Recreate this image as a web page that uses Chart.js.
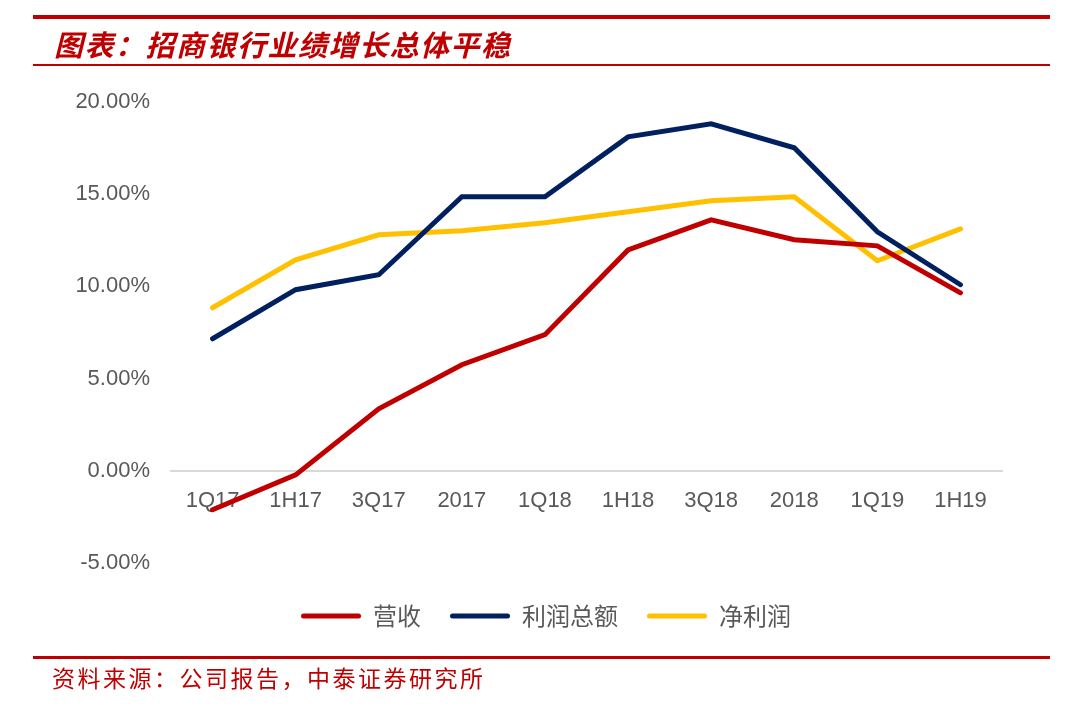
<!DOCTYPE html>
<html>
<head>
<meta charset="utf-8">
<script src="https://cdn.jsdelivr.net/npm/chart.js@4.4.1/dist/chart.umd.min.js"></script>
<style>
  html, body { margin: 0; padding: 0; background: #fff; }
  #wrap { position: relative; width: 1080px; height: 709px; overflow: hidden; }
  #chartBox { position: absolute; left: 0; top: 0; width: 1080px; height: 709px; }
  .rule { position: absolute; background: #C00000; }
  #title { position: absolute; left: 54px; top: 25px; font-family: "Noto Sans CJK SC", sans-serif; font-size: 29px; line-height: 36px; font-weight: bold; font-style: italic; color: #C00000; letter-spacing: 1.5px; white-space: nowrap; }
  #source { position: absolute; left: 52px; top: 662px; font-family: "Noto Sans CJK SC", sans-serif; font-size: 23px; line-height: 30px; color: #C00000; letter-spacing: 2.5px; white-space: nowrap; }
</style>
</head>
<body>
<div id="wrap">
  <div id="chartBox"><canvas id="c" width="1080" height="709"></canvas></div>
  <div class="rule" style="left:33px; top:15px; width:1017px; height:4px;"></div>
  <div id="title">图表：招商银行业绩增长总体平稳</div>
  <div class="rule" style="left:33px; top:64px; width:1017px; height:2px;"></div>
  <div class="rule" style="left:33px; top:656px; width:1017px; height:3px;"></div>
  <div id="source">资料来源：公司报告，中泰证券研究所</div>
</div>
<script>
const categories = ["1Q17", "1H17", "3Q17", "2017", "1Q18", "1H18", "3Q18", "2018", "1Q19", "1H19"];
const revenue = [-2.11, -0.22, 3.36, 5.75, 7.38, 11.98, 13.61, 12.53, 12.20, 9.65];
const totalProfit = [7.16, 9.82, 10.63, 14.86, 14.86, 18.11, 18.82, 17.52, 12.96, 10.09];
const netProfit = [8.84, 11.44, 12.80, 13.02, 13.45, 14.05, 14.64, 14.86, 11.39, 13.12];
const seriesNames = ["营收", "利润总额", "净利润"];
const seriesColors = ["#C00000", "#002060", "#FFC000"];
const yMin = -5, yMax = 20, yStep = 5;

const seriesData = [revenue, totalProfit, netProfit];
const datasets = seriesData.map((d, i) => ({
  label: seriesNames[i],
  data: d,
  borderColor: seriesColors[i],
  backgroundColor: seriesColors[i],
  borderWidth: 5,
  pointRadius: 0,
  pointHoverRadius: 0,
  tension: 0,
  fill: false,
  borderCapStyle: 'round',
  borderJoinStyle: 'miter'
}));

const legendShift = {
  id: 'legendShift',
  afterLayout(chart) {
    const lg = chart.legend;
    if (!lg) return;
    lg.left += 45; lg.right += 45;
    lg.top += 12; lg.bottom += 12;
  }
};

new Chart(document.getElementById('c'), {
  type: 'line',
  data: { labels: categories, datasets },
  plugins: [legendShift],
  options: {
    responsive: false,
    animation: false,
    devicePixelRatio: 1,
    layout: { padding: { top: 102, right: 78, bottom: 83, left: 0 } },
    plugins: {
      tooltip: { enabled: false },
      legend: {
        position: 'bottom',
        labels: {
          boxWidth: 60,
          boxHeight: 5,
          padding: 29,
          color: '#595959',
          font: { family: '"Noto Sans CJK SC", sans-serif', size: 24 },
          useBorderRadius: true,
          borderRadius: 2.5,
          generateLabels(chart) {
            return chart.data.datasets.map((ds, i) => ({
              text: ds.label,
              fillStyle: ds.borderColor,
              strokeStyle: ds.borderColor,
              lineWidth: 0,
              fontColor: '#595959',
              hidden: false,
              datasetIndex: i,
              borderRadius: 2.5
            }));
          }
        }
      }
    },
    scales: {
      x: {
        position: { y: 0 },
        offset: true,
        grid: { drawOnChartArea: false, drawTicks: false },
        border: { display: true, color: '#d9d9d9', width: 2 },
        ticks: {
          color: '#595959',
          padding: 17,
          maxRotation: 0,
          autoSkip: false,
          font: { family: '"Liberation Sans", sans-serif', size: 22 }
        }
      },
      y: {
        min: yMin,
        max: yMax,
        grid: { display: false, drawTicks: false },
        border: { display: false },
        afterFit(scale) { scale.width = 171; },
        ticks: {
          stepSize: yStep,
          padding: 21,
          color: '#595959',
          font: { family: '"Liberation Sans", sans-serif', size: 22 },
          callback: (v) => v.toFixed(2) + '%'
        }
      }
    }
  }
});
</script>
</body>
</html>
